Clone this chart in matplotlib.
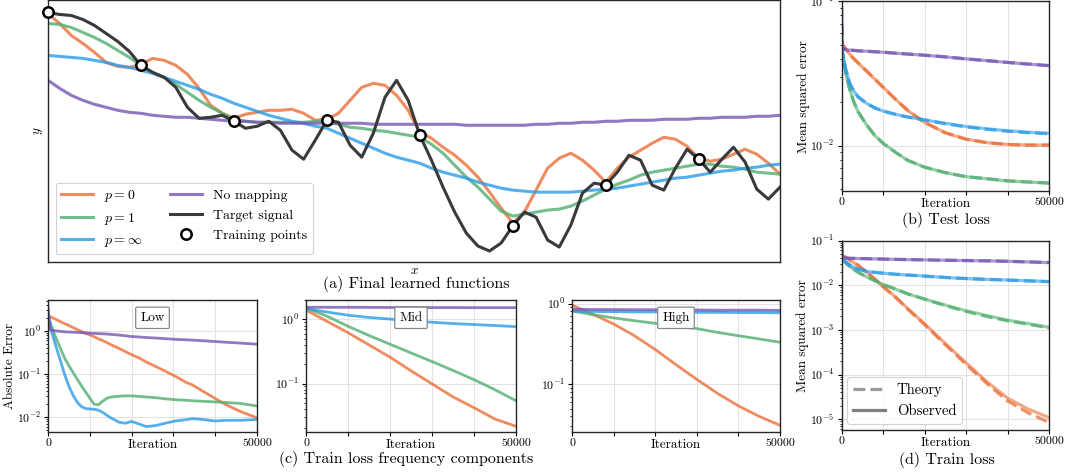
import numpy as np
import matplotlib
matplotlib.use('Agg')
import matplotlib.pyplot as plt
from matplotlib.lines import Line2D
from matplotlib.ticker import FuncFormatter, NullFormatter

plt.rcParams['font.family'] = 'serif'
plt.rcParams['font.serif'] = ['cmr10']
plt.rcParams['mathtext.fontset'] = 'cm'
plt.rcParams['axes.formatter.use_mathtext'] = True
plt.rcParams['axes.unicode_minus'] = False

# ---------------- data: (a) final learned functions (64 samples) ----------------
target_signal = [1.19, 1.17, 1.16, 1.12, 1.06, 0.98, 0.90, 0.80, 0.66, 0.59, 0.54, 0.44,
                 0.24, 0.13, 0.14, 0.16, 0.10, 0.03, 0.05, 0.10, 0.01, -0.19, -0.28, -0.09,
                 0.11, 0.09, -0.14, -0.26, -0.02, 0.34, 0.51, 0.31, -0.04, -0.29, -0.56, -0.81,
                 -1.02, -1.15, -1.20, -1.12, -0.95, -0.81, -0.86, -1.09, -1.16, -0.94, -0.62, -0.52,
                 -0.54, -0.41, -0.24, -0.29, -0.54, -0.59, -0.37, -0.18, -0.28, -0.41, -0.28, -0.16,
                 -0.31, -0.58, -0.68, -0.56]
fit_p0 = [1.18, 1.08, 0.96, 0.88, 0.79, 0.69, 0.65, 0.64, 0.67, 0.73, 0.71, 0.66,
          0.57, 0.43, 0.26, 0.18, 0.13, 0.17, 0.19, 0.21, 0.21, 0.22, 0.18, 0.11,
          0.12, 0.18, 0.31, 0.44, 0.48, 0.46, 0.36, 0.21, -0.01, -0.07, -0.16, -0.24,
          -0.34, -0.46, -0.61, -0.77, -0.92, -0.81, -0.59, -0.37, -0.27, -0.22, -0.29, -0.39,
          -0.51, -0.37, -0.26, -0.19, -0.12, -0.06, -0.08, -0.15, -0.27, -0.30, -0.28, -0.23,
          -0.18, -0.23, -0.32, -0.43]
fit_p1 = [1.08, 1.07, 1.04, 0.99, 0.94, 0.88, 0.81, 0.74, 0.66, 0.59, 0.54, 0.47,
          0.39, 0.31, 0.24, 0.18, 0.12, 0.10, 0.09, 0.09, 0.09, 0.09, 0.09, 0.10,
          0.10, 0.07, 0.04, 0.03, 0.01, 0.00, -0.02, -0.04, -0.06, -0.13, -0.22, -0.34,
          -0.46, -0.56, -0.68, -0.80, -0.85, -0.83, -0.81, -0.79, -0.78, -0.75, -0.70, -0.64,
          -0.58, -0.53, -0.49, -0.44, -0.41, -0.39, -0.37, -0.35, -0.33, -0.33, -0.35, -0.36,
          -0.38, -0.41, -0.42, -0.43]
fit_pinf = [0.76, 0.75, 0.74, 0.73, 0.71, 0.69, 0.66, 0.64, 0.61, 0.58, 0.54, 0.50,
            0.46, 0.42, 0.37, 0.33, 0.28, 0.24, 0.20, 0.16, 0.13, 0.10, 0.08, 0.05,
            0.03, -0.02, -0.07, -0.12, -0.17, -0.22, -0.26, -0.29, -0.32, -0.37, -0.41, -0.44,
            -0.47, -0.51, -0.54, -0.57, -0.59, -0.60, -0.61, -0.61, -0.61, -0.61, -0.60, -0.59,
            -0.58, -0.57, -0.55, -0.53, -0.51, -0.49, -0.47, -0.46, -0.44, -0.42, -0.40, -0.39,
            -0.37, -0.36, -0.34, -0.33]
fit_nomap = [0.51, 0.43, 0.36, 0.31, 0.27, 0.24, 0.21, 0.19, 0.18, 0.16, 0.15, 0.14,
             0.14, 0.13, 0.12, 0.11, 0.10, 0.10, 0.09, 0.09, 0.08, 0.08, 0.08, 0.08,
             0.08, 0.08, 0.08, 0.08, 0.07, 0.07, 0.07, 0.07, 0.07, 0.07, 0.07, 0.07,
             0.06, 0.06, 0.06, 0.06, 0.06, 0.06, 0.07, 0.07, 0.08, 0.08, 0.09, 0.09,
             0.10, 0.10, 0.11, 0.11, 0.11, 0.12, 0.12, 0.12, 0.13, 0.13, 0.14, 0.14,
             0.14, 0.15, 0.15, 0.16]
train_stride = 8

# ---------------- data: (b) test loss / (d) train loss ----------------
loss_iters = [0, 250, 1000, 2000, 3000, 4000, 6000, 8000, 10000, 13000, 16000,
              20000, 25000, 30000, 35000, 40000, 45000, 50000]
test_p0 = [0.052, 0.050, 0.047, 0.043, 0.040, 0.0375, 0.033, 0.029, 0.0255, 0.021, 0.0175,
           0.0145, 0.0123, 0.0111, 0.0105, 0.0102, 0.0101, 0.0101]
test_p1 = [0.049, 0.044, 0.032, 0.0245, 0.020, 0.0172, 0.0140, 0.0118, 0.0104, 0.0090, 0.0079,
           0.0071, 0.0065, 0.0061, 0.0059, 0.0057, 0.0056, 0.0055]
test_pinf = [0.049, 0.044, 0.034, 0.027, 0.0238, 0.0218, 0.0197, 0.0183, 0.0174, 0.0165, 0.0158,
             0.0151, 0.0143, 0.0136, 0.0131, 0.0127, 0.0124, 0.0122]
test_nomap = [0.092, 0.047, 0.0465, 0.046, 0.0458, 0.0455, 0.0452, 0.0448, 0.0445, 0.0438, 0.0432,
              0.0424, 0.0413, 0.0400, 0.0389, 0.0378, 0.0368, 0.0359]
test_theory_p0 = [0.052, 0.050, 0.047, 0.043, 0.040, 0.0375, 0.033, 0.029, 0.0255, 0.021, 0.0175,
                  0.0145, 0.0123, 0.0111, 0.0105, 0.0102, 0.0101, 0.0101]
test_theory_p1 = [0.049, 0.044, 0.032, 0.0245, 0.020, 0.0172, 0.0140, 0.0118, 0.0104, 0.0090, 0.0079,
                  0.0071, 0.0065, 0.0061, 0.0059, 0.0057, 0.0056, 0.0055]
test_theory_pinf = [0.049, 0.044, 0.034, 0.027, 0.0238, 0.0218, 0.0197, 0.0183, 0.0174, 0.0165, 0.0158,
                    0.0151, 0.0142, 0.0135, 0.0130, 0.0126, 0.0123, 0.0121]
test_theory_nomap = [0.092, 0.047, 0.0465, 0.046, 0.0458, 0.0455, 0.0452, 0.0448, 0.0445, 0.0438, 0.0432,
                     0.0424, 0.0413, 0.0400, 0.0389, 0.0378, 0.0368, 0.0359]

train_p0 = [0.048, 0.046, 0.042, 0.037, 0.032, 0.028, 0.020, 0.0138, 0.0093, 0.0055, 0.0030,
            0.00138, 0.00050, 0.000185, 7.0e-5, 3.0e-5, 1.7e-5, 1.1e-5]
train_p1 = [0.040, 0.037, 0.032, 0.0262, 0.0225, 0.0195, 0.0155, 0.0127, 0.0104, 0.0082, 0.0064,
            0.0049, 0.0036, 0.0027, 0.0021, 0.00166, 0.00138, 0.00115]
train_pinf = [0.040, 0.037, 0.033, 0.0285, 0.025, 0.023, 0.0205, 0.0194, 0.0186, 0.0176, 0.0169,
              0.0160, 0.0149, 0.0141, 0.0135, 0.0131, 0.0126, 0.0121]
train_nomap = [0.095, 0.042, 0.0405, 0.040, 0.0398, 0.0396, 0.0392, 0.0388, 0.0384, 0.0379, 0.0374,
               0.0369, 0.0362, 0.0356, 0.0351, 0.0343, 0.0332, 0.0321]
train_theory_p0 = [0.048, 0.046, 0.042, 0.037, 0.032, 0.028, 0.020, 0.0138, 0.0093, 0.0054, 0.0029,
                   0.00132, 0.00047, 0.000170, 6.4e-5, 2.6e-5, 1.4e-5, 8.6e-6]
train_theory_p1 = [0.040, 0.037, 0.032, 0.0262, 0.0225, 0.0195, 0.0155, 0.0127, 0.0104, 0.0082, 0.0064,
                   0.0049, 0.0035, 0.0026, 0.0020, 0.0016, 0.00135, 0.00111]
train_theory_pinf = [0.040, 0.037, 0.033, 0.0285, 0.025, 0.023, 0.0205, 0.0194, 0.0186, 0.0176, 0.0169,
                     0.0160, 0.0149, 0.0141, 0.0135, 0.0130, 0.0125, 0.0120]
train_theory_nomap = [0.095, 0.042, 0.0405, 0.040, 0.0398, 0.0396, 0.0392, 0.0388, 0.0384, 0.0379, 0.0374,
                      0.0369, 0.0362, 0.0356, 0.0351, 0.0343, 0.0332, 0.0321]

# ---------------- data: (c) train loss frequency components ----------------
low_iters = [0, 500, 1000, 2000, 3000, 4000, 5000, 6000, 7000, 8000, 9000, 10000, 11000,
             12000, 13000, 14000, 15000, 17000, 18500, 20000, 22000, 23500, 26000, 28000,
             30500, 33000, 34500, 37000, 40000, 42500, 46000, 50000]
low_p0 = [2.24, 2.13, 2.02, 1.82, 1.63, 1.47, 1.33, 1.19, 1.07, 0.97, 0.87, 0.81, 0.73,
          0.66, 0.60, 0.54, 0.48, 0.39, 0.33, 0.28, 0.23, 0.19, 0.145, 0.117,
          0.088, 0.064, 0.056, 0.040, 0.027, 0.0195, 0.0135, 0.0096]
low_p1 = [2.2, 1.6, 1.15, 0.65, 0.39, 0.23, 0.155, 0.108, 0.075, 0.053, 0.038, 0.0275, 0.020,
          0.0192, 0.023, 0.027, 0.029, 0.0305, 0.031, 0.031, 0.030, 0.0293, 0.028, 0.0265,
          0.0253, 0.0245, 0.0239, 0.0232, 0.0224, 0.0218, 0.0207, 0.0181]
low_pinf = [2.4, 1.45, 0.85, 0.41, 0.20, 0.096, 0.052, 0.032, 0.022, 0.0175, 0.0157, 0.0154, 0.0152,
            0.0145, 0.0130, 0.0112, 0.0096, 0.0076, 0.0072, 0.0079, 0.0068, 0.0060, 0.0064, 0.0072,
            0.0081, 0.0087, 0.0092, 0.0088, 0.0081, 0.0084, 0.0084, 0.0088]
low_nomap = [3.7, 1.06, 1.03, 1.0, 0.97, 0.95, 0.94, 0.93, 0.92, 0.91, 0.895, 0.885, 0.875,
             0.865, 0.855, 0.845, 0.83, 0.80, 0.77, 0.74, 0.72, 0.70, 0.68, 0.66,
             0.635, 0.62, 0.61, 0.59, 0.565, 0.545, 0.52, 0.49]

mid_iters = [0, 500, 2500, 5000, 10000, 15000, 20000, 25000, 30000, 35000, 40000, 45000, 50000]
mid_p0 = [1.40, 1.34, 1.14, 0.93, 0.62, 0.40, 0.258, 0.158, 0.099, 0.062, 0.042, 0.028, 0.0216]
mid_p1 = [1.49, 1.45, 1.30, 1.12, 0.78, 0.56, 0.41, 0.30, 0.22, 0.16, 0.115, 0.080, 0.054]
mid_pinf = [1.49, 1.46, 1.38, 1.30, 1.16, 1.07, 1.01, 0.95, 0.90, 0.86, 0.83, 0.80, 0.77]
mid_nomap = [1.55, 1.54, 1.54, 1.54, 1.54, 1.535, 1.53, 1.53, 1.525, 1.525, 1.52, 1.52, 1.52]

high_iters = [0, 2500, 5000, 10000, 15000, 20000, 25000, 30000, 35000, 40000, 45000, 50000]
high_p0 = [0.96, 0.84, 0.74, 0.56, 0.40, 0.27, 0.175, 0.115, 0.077, 0.054, 0.040, 0.031]
high_p1 = [0.81, 0.77, 0.73, 0.665, 0.615, 0.57, 0.53, 0.49, 0.44, 0.40, 0.365, 0.332]
high_pinf = [0.81, 0.80, 0.80, 0.795, 0.79, 0.79, 0.785, 0.78, 0.78, 0.775, 0.775, 0.77]
high_nomap = [0.85, 0.85, 0.845, 0.845, 0.84, 0.84, 0.835, 0.835, 0.83, 0.83, 0.83, 0.826]

series_labels = [r'$p = 0$', r'$p = 1$', r'$p = \infty$', 'No mapping']
colors = ['#EA6F37', '#50AE6F', '#2B9BE6', '#7656B4']
target_color = '#3a3a3a'

# ---------------- figure ----------------
W, H = 1068, 473
fig = plt.figure(figsize=(W / 100, H / 100), dpi=100)


def add_ax(l, t, r, b):
    return fig.add_axes([l / W, 1 - b / H, (r - l) / W, (b - t) / H])


def style_spines(ax):
    for s in ax.spines.values():
        s.set_color('#262626')
        s.set_linewidth(1.0)


# (a)
ax_a = add_ax(48, 0.5, 780, 262)
xs = np.arange(len(target_signal)) / len(target_signal)
lw_a = 2.2
for vals, lab, c in zip([fit_p0, fit_p1, fit_pinf, fit_nomap], series_labels, colors):
    ax_a.plot(xs, vals, color=c, lw=lw_a, alpha=0.8, label=lab)
ax_a.plot(xs, target_signal, color=target_color, lw=lw_a, label='Target signal')
ax_a.plot(xs[::train_stride], np.array(target_signal)[::train_stride], 'o', ms=7.5,
          mfc='white', mec='black', mew=1.8, label='Training points', zorder=5, clip_on=False)
ax_a.set_xlim(xs[0], xs[-1])
ax_a.set_ylim(-1.31, 1.31)
ax_a.set_xticks([])
ax_a.set_yticks([])
ax_a.set_xlabel('$x$', fontsize=9.5, labelpad=2)
ax_a.set_ylabel('$y$', fontsize=9.5, labelpad=2)
style_spines(ax_a)
leg = ax_a.legend(ncol=2, loc='lower left', fontsize=10, handlelength=2.3, columnspacing=2.0,
                  framealpha=0.85, edgecolor='#cccccc', borderaxespad=0.55)
leg.get_frame().set_linewidth(0.8)


def style_loss(ax, ylim, tick_fs=8.5):
    ax.set_yscale('log')
    ax.set_xlim(0, 50000)
    ax.set_ylim(*ylim)
    ax.set_xticks(np.arange(0, 50001, 10000))
    ax.xaxis.set_major_formatter(FuncFormatter(lambda v, p: f'{int(v)}' if v in (0, 50000) else ''))
    ax.yaxis.set_minor_formatter(NullFormatter())
    ax.tick_params(axis='both', which='major', length=3, width=0.8, pad=2, labelsize=tick_fs)
    ax.tick_params(axis='y', which='minor', length=1.8, width=0.6)
    ax.grid(True, which='major', color='#e3e3e3', lw=0.8)
    ax.set_axisbelow(True)
    ax.annotate('Iteration', xy=(0.5, 0), xycoords='axes fraction', xytext=(0, -5),
                textcoords='offset points', ha='center', va='top', fontsize=9.5)
    style_spines(ax)


def plot_pair(ax, obs_list, th_list):
    for obs, th, c in zip(obs_list, th_list, colors):
        ax.plot(loss_iters, th, color=c, lw=2.3, ls='--', alpha=0.75)
        ax.plot(loss_iters, obs, color=c, lw=2.3, alpha=0.6)


# (b) test loss
ax_b = add_ax(841.5, 1.5, 1049, 191)
plot_pair(ax_b, [test_p0, test_p1, test_pinf, test_nomap],
          [test_theory_p0, test_theory_p1, test_theory_pinf, test_theory_nomap])
style_loss(ax_b, (0.00485, 0.1))
ax_b.set_ylabel('Mean squared error', fontsize=9.5, labelpad=0.5)

# (d) train loss
ax_d = add_ax(841.5, 240.5, 1049, 430)
plot_pair(ax_d, [train_p0, train_p1, train_pinf, train_nomap],
          [train_theory_p0, train_theory_p1, train_theory_pinf, train_theory_nomap])
style_loss(ax_d, (5.8e-6, 0.1))
ax_d.set_ylabel('Mean squared error', fontsize=9.5, labelpad=0.5)
hd = [Line2D([], [], color='#808080', lw=2.3, ls='--', alpha=0.8),
      Line2D([], [], color='#5f5f5f', lw=2.3, alpha=0.8)]
legd = ax_d.legend(hd, ['Theory', 'Observed'], loc='lower left', fontsize=10.5, handlelength=2.2,
                   framealpha=0.85, edgecolor='#cccccc', borderaxespad=0.4)
legd.get_frame().set_linewidth(0.8)

# (c) frequency components
panels = [
    ((48, 300, 257, 432), low_iters, [low_p0, low_p1, low_pinf, low_nomap], (0.0045, 5.2), 'Low'),
    ((306, 300, 516, 432), mid_iters, [mid_p0, mid_p1, mid_pinf, mid_nomap], (0.0176, 2.0), 'Mid'),
    ((572, 300, 780, 432), high_iters, [high_p0, high_p1, high_pinf, high_nomap], (0.0256, 1.11), 'High'),
]
for i, (box, its, series, ylim, name) in enumerate(panels):
    ax = add_ax(*box)
    for vals, c in zip(series, colors):
        ax.plot(its, vals, color=c, lw=2.0, alpha=0.8)
    style_loss(ax, ylim)
    ax.text(0.5, 0.865, name, transform=ax.transAxes, ha='center', va='center', fontsize=9.5,
            bbox=dict(boxstyle='round,pad=0.35,rounding_size=0.1', fc='white', ec='#888888', lw=0.9))
    if i == 0:
        ax.set_ylabel('Absolute Error', fontsize=9.5, labelpad=0.5)

# captions
cap_fs = 11.5
fig.text(416 / W, 1 - 284 / H, '(a) Final learned functions', ha='center', va='center', fontsize=cap_fs)
fig.text(946 / W, 1 - 220 / H, '(b) Test loss', ha='center', va='center', fontsize=cap_fs)
fig.text(406 / W, 1 - 459 / H, '(c) Train loss frequency components', ha='center', va='center', fontsize=cap_fs)
fig.text(947 / W, 1 - 460 / H, '(d) Train loss', ha='center', va='center', fontsize=cap_fs)

fig.savefig('out.png', dpi=100)
